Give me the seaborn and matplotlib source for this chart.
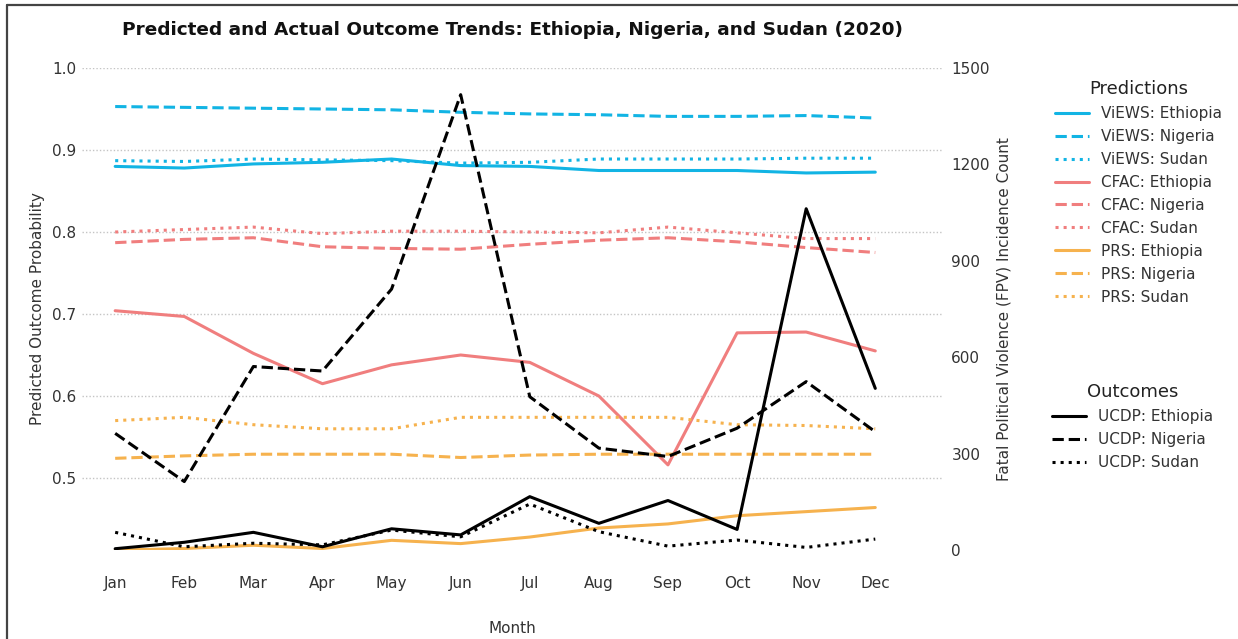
import matplotlib
matplotlib.use("Agg")
import matplotlib.pyplot as plt
from matplotlib.lines import Line2D
import seaborn as sns
import pandas as pd

months = ["Jan", "Feb", "Mar", "Apr", "May", "Jun", "Jul", "Aug", "Sep", "Oct", "Nov", "Dec"]

views_eth = [0.880, 0.878, 0.883, 0.885, 0.889, 0.881, 0.880, 0.875, 0.875, 0.875, 0.872, 0.873]
views_nga = [0.953, 0.952, 0.951, 0.950, 0.949, 0.946, 0.944, 0.943, 0.941, 0.941, 0.942, 0.939]
views_sdn = [0.887, 0.886, 0.889, 0.888, 0.887, 0.884, 0.885, 0.889, 0.889, 0.889, 0.890, 0.890]
cfac_eth = [0.704, 0.697, 0.652, 0.615, 0.638, 0.650, 0.641, 0.600, 0.516, 0.677, 0.678, 0.655]
cfac_nga = [0.787, 0.791, 0.793, 0.782, 0.780, 0.779, 0.785, 0.790, 0.793, 0.788, 0.781, 0.775]
cfac_sdn = [0.800, 0.803, 0.806, 0.798, 0.801, 0.801, 0.800, 0.799, 0.806, 0.799, 0.792, 0.792]
prs_eth = [0.412, 0.414, 0.418, 0.414, 0.424, 0.420, 0.428, 0.439, 0.444, 0.454, 0.459, 0.464]
prs_nga = [0.524, 0.527, 0.529, 0.529, 0.529, 0.525, 0.528, 0.529, 0.529, 0.529, 0.529, 0.529]
prs_sdn = [0.570, 0.574, 0.565, 0.560, 0.560, 0.574, 0.574, 0.574, 0.574, 0.565, 0.564, 0.560]

ucdp_eth = [4, 24, 55, 10, 66, 47, 166, 83, 154, 64, 1062, 503]
ucdp_nga = [363, 213, 571, 557, 812, 1417, 477, 317, 291, 379, 524, 368]
ucdp_sdn = [55, 10, 21, 16, 62, 41, 143, 57, 12, 31, 8, 34]

left_ticks = [0.5, 0.6, 0.7, 0.8, 0.9, 1.0]
right_ticks = [0, 300, 600, 900, 1200, 1500]

C_VIEWS = "#12B4E4"
C_CFAC = "#F07E7E"
C_PRS = "#F6B24E"
C_UCDP = "#000000"

sns.set_style("white")
plt.rcParams["font.family"] = ["DejaVu Sans"]

fig = plt.figure(figsize=(12.38, 6.39), dpi=100)
ax = fig.add_axes([82/1238, 1-550/639, (943-82)/1238, (550-68)/639])
ax2 = ax.twinx()

pred_series = [
    ("ViEWS: Ethiopia", views_eth, C_VIEWS, "-"),
    ("ViEWS: Nigeria", views_nga, C_VIEWS, "--"),
    ("ViEWS: Sudan", views_sdn, C_VIEWS, ":"),
    ("CFAC: Ethiopia", cfac_eth, C_CFAC, "-"),
    ("CFAC: Nigeria", cfac_nga, C_CFAC, "--"),
    ("CFAC: Sudan", cfac_sdn, C_CFAC, ":"),
    ("PRS: Ethiopia", prs_eth, C_PRS, "-"),
    ("PRS: Nigeria", prs_nga, C_PRS, "--"),
    ("PRS: Sudan", prs_sdn, C_PRS, ":"),
]
out_series = [
    ("UCDP: Ethiopia", ucdp_eth, C_UCDP, "-"),
    ("UCDP: Nigeria", ucdp_nga, C_UCDP, "--"),
    ("UCDP: Sudan", ucdp_sdn, C_UCDP, ":"),
]

pred_handles = []
for label, vals, col, ls in pred_series:
    df = pd.DataFrame({"Month": months, "val": vals})
    sns.lineplot(data=df, x="Month", y="val", ax=ax, color=col, linestyle=ls,
                 linewidth=2.2, label=label, legend=False, sort=False)
    pred_handles.append(ax.lines[-1])

out_handles = []
for label, vals, col, ls in out_series:
    df = pd.DataFrame({"Month": months, "val": vals})
    sns.lineplot(data=df, x="Month", y="val", ax=ax2, color=col, linestyle=ls,
                 linewidth=2.2, label=label, legend=False, sort=False)
    out_handles.append(ax2.lines[-1])

for a in (ax, ax2):
    if a.get_legend() is not None:
        a.get_legend().remove()
    for s in a.spines.values():
        s.set_visible(False)

ax.set_xlim(-0.48, 11.98)
ax.set_ylim(0.4122, 1.0)
ax2.set_ylim(0, 1500)
ax.set_yticks(left_ticks)
ax.set_yticklabels([f"{t:.1f}" for t in left_ticks])
ax2.set_yticks(right_ticks)
ax2.set_yticklabels([str(t) for t in right_ticks])

ax.grid(axis="y", linestyle=(0, (1, 1.5)), color="#c4c4c4", linewidth=1.0)
ax.grid(axis="x", visible=False)
ax2.grid(False)

tc = "#333333"
ax.tick_params(axis="x", length=0, pad=19, labelsize=11, labelcolor=tc)
ax.tick_params(axis="y", length=0, pad=4, labelsize=11, labelcolor=tc)
ax2.tick_params(axis="y", length=0, pad=6, labelsize=11, labelcolor=tc)

ax.set_xlabel("Month", fontsize=11, color=tc)
ax.xaxis.set_label_coords(0.5, -0.148)
ax.set_ylabel("Predicted Outcome Probability", fontsize=11, color=tc)
ax.yaxis.set_label_coords(-0.043, 0.5)
ax2.set_ylabel("Fatal Political Violence (FPV) Incidence Count", fontsize=11, color=tc)
ax2.yaxis.set_label_coords(1.0616, 0.5)

ax.set_title("Predicted and Actual Outcome Trends: Ethiopia, Nigeria, and Sudan (2020)",
             fontsize=13.3, fontweight="bold", pad=24, color="#111111")

leg1 = fig.legend(handles=pred_handles, labels=[s[0] for s in pred_series],
                  title="Predictions", loc="upper left",
                  bbox_to_anchor=(1049/1238, 1-74/639), frameon=False,
                  fontsize=11, title_fontsize=13, labelspacing=0.52,
                  handlelength=2.2, borderaxespad=0)
leg2 = fig.legend(handles=out_handles, labels=[s[0] for s in out_series],
                  title="Outcomes", loc="upper left",
                  bbox_to_anchor=(1046/1238, 1-377/639), frameon=False,
                  fontsize=11, title_fontsize=13, labelspacing=0.52,
                  handlelength=2.2, borderaxespad=0)
for lg in (leg1, leg2):
    for t in lg.get_texts():
        t.set_color(tc)
    lg.get_title().set_color("#222222")

# thin frame on top and left edges as in the reference
fig.add_artist(Line2D([7/1238, 1.0], [1-5/639, 1-5/639], transform=fig.transFigure,
                      color="#444444", linewidth=1.6))
fig.add_artist(Line2D([7/1238, 7/1238], [0.0, 1-5/639], transform=fig.transFigure,
                      color="#444444", linewidth=1.6))

fig.savefig("out.png", dpi=100, facecolor="white")
